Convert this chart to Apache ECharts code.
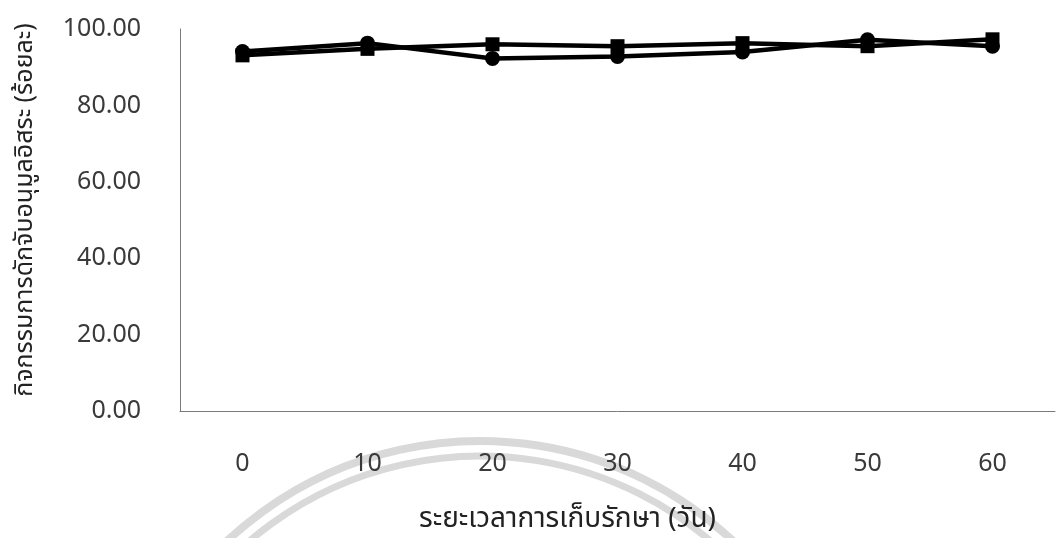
<!DOCTYPE html>
<html>
<head>
<meta charset="utf-8">
<script src="https://cdn.jsdelivr.net/npm/echarts@6/dist/echarts.min.js"></script>
<style>
html,body{margin:0;padding:0;background:#fff;}
#chart{width:1059px;height:538px;}
</style>
</head>
<body>
<div id="chart"></div>
<script>
const categories = ['0', '10', '20', '30', '40', '50', '60'];
const circleSeries = [94.1, 96.3, 92.3, 92.8, 94.0, 97.2, 95.5];
const squareSeries = [93.1, 94.8, 96.0, 95.5, 96.3, 95.5, 97.3];
const yTicks = [0, 20, 40, 60, 80, 100];
const xAxisTitle = 'ระยะเวลาการเก็บรักษา (วัน)';
const yAxisTitle = 'กิจกรรมการดักจับอนุมูลอิสระ (ร้อยละ)';

const fontFamily = '"Noto Sans", "Noto Sans Thai", "Open Sans", sans-serif';
const chart = echarts.init(document.getElementById('chart'), null, {renderer: 'canvas'});

const option = {
  backgroundColor: '#ffffff',
  animation: false,
  graphic: [
    {type: 'arc', z: -10, silent: true,
     shape: {cx: 480, cy: 811, r: 370, startAngle: Math.PI * 1.05, endAngle: Math.PI * 1.95},
     style: {stroke: '#d9d9d9', lineWidth: 8, fill: null}},
    {type: 'arc', z: -10, silent: true,
     shape: {cx: 480, cy: 811, r: 355, startAngle: Math.PI * 1.05, endAngle: Math.PI * 1.95},
     style: {stroke: '#d9d9d9', lineWidth: 7, fill: null}}
  ],
  grid: {left: 180, right: 4, top: 29, bottom: 125, containLabel: false},
  xAxis: {
    type: 'category',
    data: categories,
    boundaryGap: true,
    axisLine: {show: true, lineStyle: {color: '#7a7a7a', width: 1}},
    axisTick: {show: false},
    axisLabel: {color: '#3a3a3a', fontSize: 25, fontFamily: fontFamily, margin: 40},
    name: xAxisTitle,
    nameLocation: 'middle',
    nameGap: 94,
    nameTextStyle: {color: '#222', fontSize: 28, fontFamily: fontFamily, padding: [0, 100, 0, 0]}
  },
  yAxis: {
    type: 'value',
    min: yTicks[0],
    max: yTicks[yTicks.length - 1],
    interval: yTicks[1] - yTicks[0],
    axisLine: {show: true, lineStyle: {color: '#7a7a7a', width: 1}},
    axisTick: {show: false},
    splitLine: {show: false},
    axisLabel: {color: '#3a3a3a', fontSize: 25, fontFamily: fontFamily, margin: 39,
      formatter: v => v.toFixed(2)},
    name: yAxisTitle,
    nameLocation: 'middle',
    nameGap: 143,
    nameRotate: 90,
    nameTextStyle: {color: '#222', fontSize: 25, fontFamily: fontFamily, padding: [0, 0, 0, 20]}
  },
  series: [
    {
      name: 'circle',
      type: 'line',
      data: circleSeries,
      symbol: 'circle',
      symbolSize: 15,
      lineStyle: {color: '#000', width: 4.5},
      itemStyle: {color: '#000'},
      z: 3
    },
    {
      name: 'square',
      type: 'line',
      data: squareSeries,
      symbol: 'rect',
      symbolSize: 14,
      lineStyle: {color: '#000', width: 4.5},
      itemStyle: {color: '#000'},
      z: 2
    }
  ]
};
chart.setOption(option);
</script>
</body>
</html>
